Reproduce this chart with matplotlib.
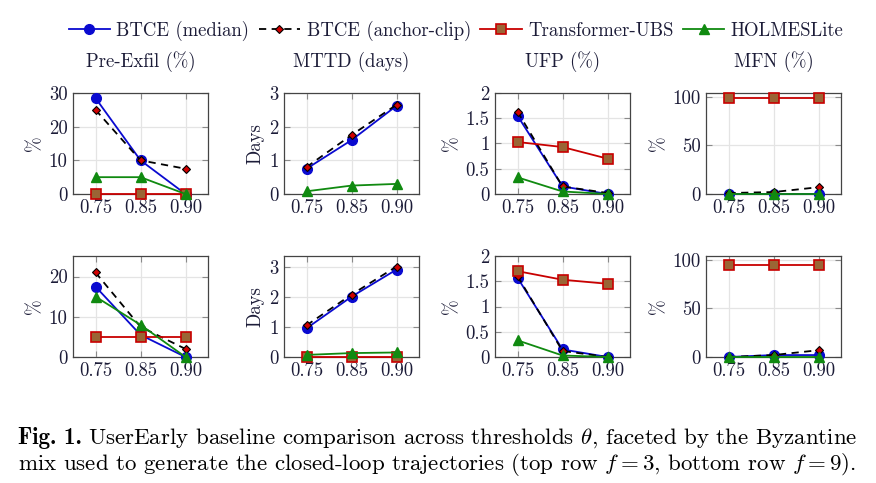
import numpy as np
import matplotlib
matplotlib.use('Agg')
import matplotlib.pyplot as plt

thresholds = ['0.75', '0.85', '0.90']
metrics = ['Pre-Exfil (%)', 'MTTD (days)', 'UFP (%)', 'MFN (%)']
ylabels = ['%', 'Days', '%', '%']

# top row f = 3
top_median = [[28.5, 10.0, 0.0], [0.75, 1.6, 2.62], [1.55, 0.15, 0.0], [0.0, 0.0, 0.0]]
top_anchor = [[25.0, 10.0, 7.5], [0.8, 1.75, 2.65], [1.63, 0.15, 0.02], [1.0, 2.0, 7.0]]
top_transf = [[0.0, 0.0, 0.0], [np.nan, np.nan, np.nan], [1.03, 0.93, 0.70], [99.0, 99.0, 99.0]]
top_holmes = [[5.0, 5.0, 0.0], [0.08, 0.25, 0.30], [0.33, 0.05, 0.0], [0.0, 0.0, 0.0]]

# bottom row f = 9
bot_median = [[17.5, 5.5, 0.0], [0.95, 2.0, 2.9], [1.57, 0.15, 0.0], [0.0, 2.0, 2.0]]
bot_anchor = [[21.0, 7.5, 2.0], [1.05, 2.07, 3.0], [1.60, 0.12, 0.0], [0.0, 2.0, 7.0]]
bot_transf = [[5.0, 5.0, 5.0], [0.0, 0.0, 0.0], [1.70, 1.53, 1.45], [95.0, 95.0, 95.0]]
bot_holmes = [[15.0, 8.0, 0.0], [0.07, 0.13, 0.15], [0.33, 0.03, 0.0], [0.0, 0.0, 0.0]]

top_ylim = [(0, 30), (0, 3), (0, 2), (0, 104)]
bot_ylim = [(0, 25.1), (0, 3.35), (0, 2), (0, 104)]
top_yticks = [[0, 10, 20, 30], [0, 1, 2, 3], [0, 0.5, 1, 1.5, 2], [0, 50, 100]]
bot_yticks = [[0, 10, 20], [0, 1, 2, 3], [0, 0.5, 1, 1.5, 2], [0, 50, 100]]

plt.rcParams['font.family'] = ['cmr10', 'DejaVu Serif']
plt.rcParams['mathtext.fontset'] = 'cm'
plt.rcParams['axes.formatter.use_mathtext'] = True
txt = '#1c1c38'
fs = 13.5

fig = plt.figure(figsize=(8.76, 4.83), dpi=100)
W, H = 876, 483
lefts = [73, 284, 495, 706]
tops = [93, 256]
aw, ah = 135, 101

x = np.arange(len(thresholds))
styles = [
    dict(color='#0a0ad0', marker='o', ms=7, mfc='#0a0ad0', mec='#0a0ad0', lw=1.3, ls='-', label='BTCE (median)'),
    dict(color='black', marker='D', ms=4.3, mfc='#d00000', mec='black', mew=0.8, lw=1.3, ls=(0, (4, 3)), label='BTCE (anchor-clip)'),
    dict(color='#c80000', marker='s', ms=6.5, mfc='#9a6535', mec='#c80000', mew=1.2, lw=1.3, ls='-', label='Transformer-UBS'),
    dict(color='#108a10', marker='^', ms=7, mfc='#108a10', mec='#108a10', lw=1.3, ls='-', label='HOLMESLite'),
]

rows = [
    (top_median, top_anchor, top_transf, top_holmes, top_ylim, top_yticks),
    (bot_median, bot_anchor, bot_transf, bot_holmes, bot_ylim, bot_yticks),
]

handles = None
for r, (med, anc, trf, hol, ylims, yticks) in enumerate(rows):
    for c in range(4):
        ax = fig.add_axes([lefts[c] / W, 1 - (tops[r] + ah) / H, aw / W, ah / H])
        lines = []
        for data, st in zip([med, anc, trf, hol], styles):
            ln, = ax.plot(x, data[c], clip_on=False, zorder=3, **st)
            lines.append(ln)
        handles = lines
        ax.set_xlim(-0.5, 2.5)
        ax.set_ylim(*ylims[c])
        ax.set_xticks(x)
        ax.set_xticklabels(thresholds)
        ax.set_yticks(yticks[c])
        ax.set_yticklabels([('%g' % v) for v in yticks[c]])
        ax.grid(True, color='#e4e4e4', lw=0.9)
        ax.set_axisbelow(True)
        ax.tick_params(direction='in', length=4, width=0.8, color='#8a8a8a',
                       top=True, right=True, labelsize=fs, labelcolor=txt, pad=4)
        for sp in ax.spines.values():
            sp.set_color('#444444')
            sp.set_linewidth(0.9)
        ax.set_ylabel(ylabels[c], fontsize=fs, color=txt, labelpad=3)
        if r == 0:
            ax.set_title(metrics[c], fontsize=fs, color=txt, pad=19)

fig.legend(handles=handles, loc='center', bbox_to_anchor=(0.5 + 18 / W, 1 - 31 / H), ncol=4,
           frameon=False, fontsize=fs, handlelength=2.2, columnspacing=0.5,
           handletextpad=0.35, labelcolor=txt)

# caption: bold "Fig. 1." then the rest placed right after it
cap_fs = 16.5
t0 = fig.text(18 / W, 1 - 438 / H, 'Fig. 1.', family='cmb10', fontsize=cap_fs,
              color='black', va='center', ha='left')
fig.canvas.draw()
bb = t0.get_window_extent()
fig.text(bb.x1 / W + 6 / W, 1 - 438 / H,
         r'UserEarly baseline comparison across thresholds $\theta$, faceted by the Byzantine',
         fontsize=cap_fs, color='black', va='center', ha='left')
fig.text(18 / W, 1 - 465 / H,
         r'mix used to generate the closed-loop trajectories (top row $f = 3$, bottom row $f = 9$).',
         fontsize=cap_fs, color='black', va='center', ha='left')

fig.savefig('out.png', dpi=100)
